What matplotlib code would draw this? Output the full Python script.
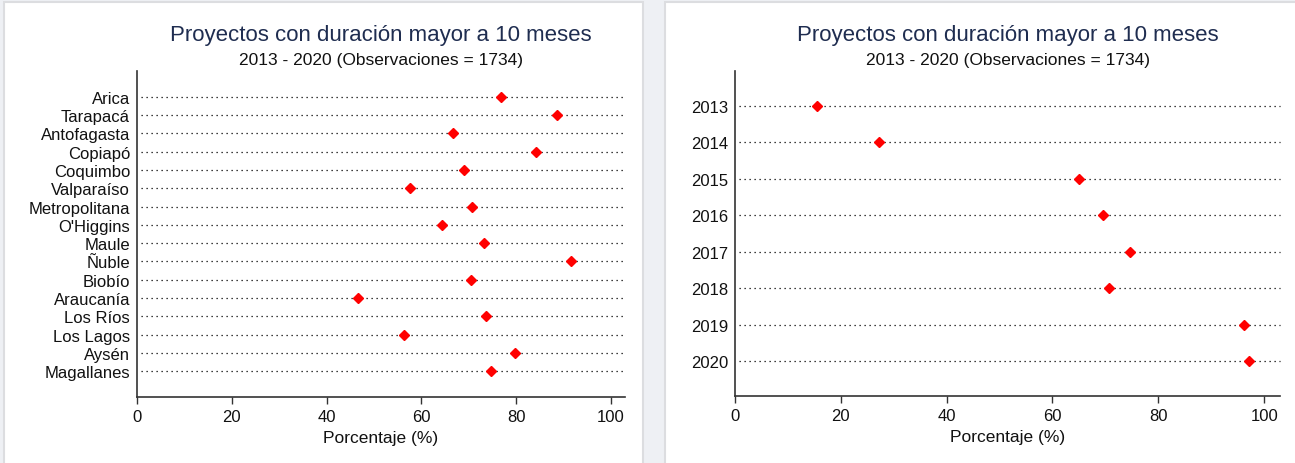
import matplotlib
matplotlib.use("Agg")
import matplotlib.pyplot as plt
from matplotlib.patches import Rectangle

plt.rcParams["font.family"] = ["Liberation Sans", "DejaVu Sans"]

# datos
regiones = ["Arica", "Tarapacá", "Antofagasta", "Copiapó", "Coquimbo", "Valparaíso",
            "Metropolitana", "O'Higgins", "Maule", "Ñuble", "Biobío", "Araucanía",
            "Los Ríos", "Los Lagos", "Aysén", "Magallanes"]
pct_region = [76.8, 88.7, 66.7, 84.3, 69.1, 57.6, 70.8, 64.4, 73.3, 91.5,
              70.6, 46.7, 73.6, 56.4, 79.8, 74.8]

anios = ["2013", "2014", "2015", "2016", "2017", "2018", "2019", "2020"]
pct_anio = [15.5, 27.3, 65.1, 69.5, 74.6, 70.6, 96.2, 97.1]

titulo = "Proyectos con duración mayor a 10 meses"
subtitulo = "2013 - 2020 (Observaciones = 1734)"
xlabel = "Porcentaje (%)"
xticks = [0, 20, 40, 60, 80, 100]

W, H = 1295, 464
fig = plt.figure(figsize=(W / 100, H / 100), dpi=100)
fig.patch.set_facecolor("#eef0f4")

# tarjetas blancas
for x0, x1 in [(4, 643), (665, 1300)]:
    fig.patches.append(Rectangle((x0 / W, -0.01), (x1 - x0) / W, (H - 3) / H + 0.01,
                                 transform=fig.transFigure, facecolor="white",
                                 edgecolor="#dcdde0", linewidth=1.5, zorder=-5))


def dot_plot(rect, labels, values, pad):
    ax = fig.add_axes(rect)
    ax.set_facecolor("none")
    pos = list(range(1, len(labels) + 1))
    for p in pos:
        ax.plot([0.8, 103], [p, p], color="black", linewidth=0.9,
                linestyle=(0, (1, 3.0)), zorder=1, clip_on=False)
    ax.plot(values, pos, linestyle="none", marker="D", markersize=5,
            color="red", zorder=3)
    ax.set_xlim(0, 103)
    ax.set_ylim(len(labels) + pad, 1 - pad)
    ax.set_yticks(pos)
    ax.set_yticklabels(labels, fontsize=12, color="#111111")
    ax.tick_params(axis="y", length=0, pad=5)
    ax.set_xticks(xticks)
    ax.tick_params(axis="x", length=5, width=1, color="#333333",
                   labelsize=12, labelcolor="#111111", pad=4)
    for s in ["top", "right"]:
        ax.spines[s].set_visible(False)
    for s in ["left", "bottom"]:
        ax.spines[s].set_color("#333333")
        ax.spines[s].set_linewidth(1.2)
    ax.set_xlabel(xlabel, fontsize=12.5, color="#111111", labelpad=4)
    cx = rect[0] + rect[2] / 2
    fig.text(cx, (H - 36) / H, titulo, ha="center", va="center",
             fontsize=16, color="#1f2d50")
    fig.text(cx, (H - 60) / H, subtitulo, ha="center", va="center",
             fontsize=12.5, color="#111111")
    return ax


dot_plot([137 / W, 66 / H, 488 / W, 326 / H], regiones, pct_region, 1.42)
dot_plot([735 / W, 67 / H, 545 / W, 325 / H], anios, pct_anio, 0.96)

fig.savefig("out.png", dpi=100, facecolor=fig.get_facecolor())
